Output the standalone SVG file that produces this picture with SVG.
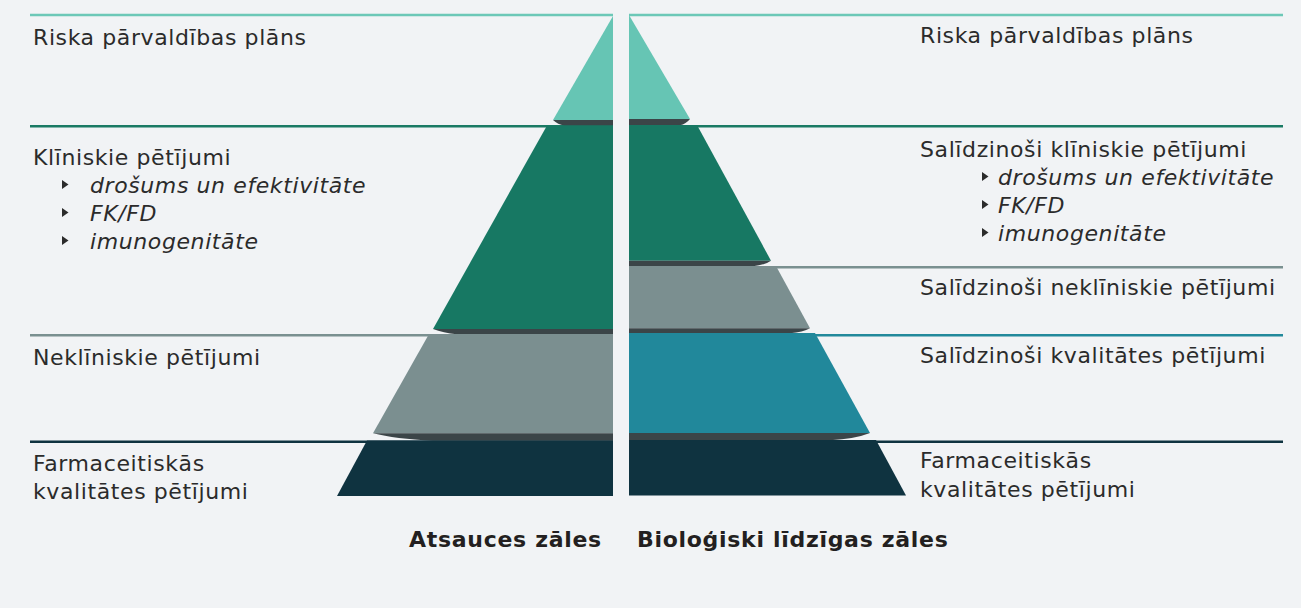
<svg xmlns="http://www.w3.org/2000/svg" width="1301" height="608" viewBox="0 0 1301 608">
<style>
.t{font-family:"DejaVu Sans","Verdana",sans-serif;font-size:22px;letter-spacing:0.6px;fill:#2b2b2b}
.i{font-style:italic}
.b{font-weight:bold;fill:#231f20;letter-spacing:0.7px}
.ln{stroke-width:2.5;fill:none}
.sh{fill:#3b4548}
.bu{fill:#2b2b2b}
</style>
<rect x="0" y="0" width="1301" height="608" fill="#f1f3f5"/>
<g id="connectors">
<line class="ln" x1="30" y1="15" x2="613" y2="15" stroke="#6cc8b7"/>
<line class="ln" x1="30" y1="126.3" x2="613" y2="126.3" stroke="#1a7a64"/>
<line class="ln" x1="30" y1="335.3" x2="613" y2="335.3" stroke="#7a9090"/>
<line class="ln" x1="30" y1="441.7" x2="613" y2="441.7" stroke="#0f3340"/>
<line class="ln" x1="629" y1="15" x2="1283" y2="15" stroke="#6cc8b7"/>
<line class="ln" x1="629" y1="126.3" x2="1283" y2="126.3" stroke="#1a7a64"/>
<line class="ln" x1="629" y1="267.3" x2="1283" y2="267.3" stroke="#7a9090"/>
<line class="ln" x1="629" y1="335.3" x2="1283" y2="335.3" stroke="#22899b"/>
<line class="ln" x1="629" y1="441.7" x2="1283" y2="441.7" stroke="#0f3340"/>
</g>
<g id="left-pyramid">
<polygon points="613,16 613,120 553,120" fill="#66c5b4"/>
<path class="sh" d="M613,120 L553,120 Q558,124.5 564,125.5 L613,125.5 Z"/>
<polygon points="547,125.5 613,125.5 613,329 433,329" fill="#177863"/>
<path class="sh" d="M613,329 L433,329 Q443,333 457,334.3 L613,334.3 Z"/>
<polygon points="429,334 613,334 613,433.3 373,433.3" fill="#7b8f90"/>
<path class="sh" d="M613,433.3 L373,433.3 Q395,439 433,440.7 L613,440.7 Z"/>
<polygon points="367,440.5 613,440.5 613,496 337,496" fill="#0f3340"/>
</g>
<g id="right-pyramid">
<polygon points="629,15 690,119 629,119" fill="#66c5b4"/>
<path class="sh" d="M629,119 L690,119 Q686,124 680,125.3 L629,125.3 Z"/>
<polygon points="629,125 697,125 771,260.7 629,260.7" fill="#177863"/>
<path class="sh" d="M629,260.7 L771,260.7 Q765,265 753,266.2 L629,266.2 Z"/>
<polygon points="629,266 776,266 810,328.3 629,328.3" fill="#7b8f90"/>
<path class="sh" d="M629,328.3 L810,328.3 Q803,332.3 790,333.3 L629,333.3 Z"/>
<polygon points="629,333 815,333 870,433 629,433" fill="#21889b"/>
<path class="sh" d="M629,433 L870,433 Q855,439 830,440.2 L629,440.2 Z"/>
<polygon points="629,440 876,440 906,495.5 629,495.5" fill="#0f3340"/>
</g>
<g id="left-labels">
<text class="t" x="33" y="45">Riska pārvaldības plāns</text>
<text class="t" x="33" y="165">Klīniskie pētījumi</text>
<path class="bu" d="M62,180 L68.5,184.5 L62,189 Z"/>
<text class="t i" x="90" y="193">drošums un efektivitāte</text>
<path class="bu" d="M62,208 L68.5,212.5 L62,217 Z"/>
<text class="t i" x="90" y="221">FK/FD</text>
<path class="bu" d="M62,236 L68.5,240.5 L62,245 Z"/>
<text class="t i" x="90" y="249">imunogenitāte</text>
<text class="t" x="33" y="365">Neklīniskie pētījumi</text>
<text class="t" x="33" y="471">Farmaceitiskās</text>
<text class="t" x="33" y="499">kvalitātes pētījumi</text>
</g>
<g id="right-labels">
<text class="t" x="920" y="43">Riska pārvaldības plāns</text>
<text class="t" x="920" y="157">Salīdzinoši klīniskie pētījumi</text>
<path class="bu" d="M982,172 L988.5,176.5 L982,181 Z"/>
<text class="t i" x="998" y="185">drošums un efektivitāte</text>
<path class="bu" d="M982,200 L988.5,204.5 L982,209 Z"/>
<text class="t i" x="998" y="213">FK/FD</text>
<path class="bu" d="M982,228 L988.5,232.5 L982,237 Z"/>
<text class="t i" x="998" y="241">imunogenitāte</text>
<text class="t" x="920" y="295">Salīdzinoši neklīniskie pētījumi</text>
<text class="t" x="920" y="363">Salīdzinoši kvalitātes pētījumi</text>
<text class="t" x="920" y="468">Farmaceitiskās</text>
<text class="t" x="920" y="497">kvalitātes pētījumi</text>
</g>
<g id="titles">
<text class="t b" x="409" y="547">Atsauces zāles</text>
<text class="t b" x="637" y="547">Bioloģiski līdzīgas zāles</text>
</g>
</svg>
